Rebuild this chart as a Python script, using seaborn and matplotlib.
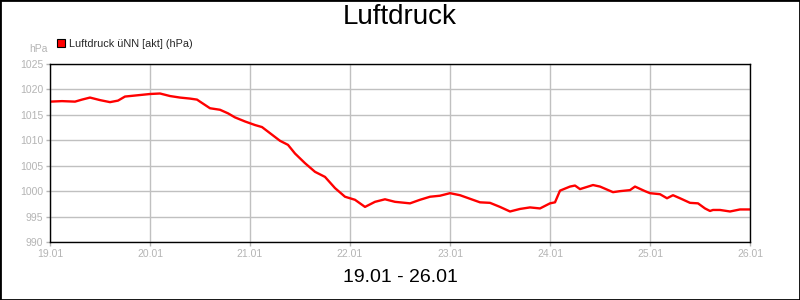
import matplotlib
matplotlib.use("Agg")
import matplotlib.pyplot as plt
import seaborn as sns
import pandas as pd
from matplotlib.patches import Patch, Rectangle

# ---- data ----
day_offset = [0.00, 0.12, 0.25, 0.32, 0.40, 0.50, 0.60, 0.68, 0.75, 0.90,
              1.00, 1.10, 1.20, 1.30, 1.40, 1.47, 1.50, 1.60, 1.70, 1.78,
              1.85, 1.95, 2.05, 2.12, 2.20, 2.30, 2.38, 2.45, 2.55, 2.65,
              2.75, 2.85, 2.95, 3.05, 3.15, 3.25, 3.35, 3.45, 3.60, 3.70,
              3.80, 3.90, 4.00, 4.10, 4.20, 4.30, 4.40, 4.50, 4.60, 4.70,
              4.80, 4.90, 5.00, 5.05, 5.10, 5.20, 5.25, 5.30, 5.43, 5.50,
              5.63, 5.70, 5.80, 5.85, 5.95, 6.00, 6.10, 6.17, 6.23, 6.30,
              6.40, 6.48, 6.55, 6.60, 6.63, 6.70, 6.80, 6.90, 7.00]
pressure = [1017.6, 1017.7, 1017.6, 1018.0, 1018.4, 1017.9, 1017.5, 1017.8, 1018.6, 1018.9,
            1019.1, 1019.2, 1018.7, 1018.4, 1018.2, 1018.0, 1017.6, 1016.3, 1016.0, 1015.3,
            1014.5, 1013.7, 1013.0, 1012.6, 1011.4, 1009.9, 1009.1, 1007.4, 1005.5, 1003.8,
            1002.8, 1000.6, 998.9, 998.3, 996.9, 997.9, 998.4, 997.9, 997.6, 998.3,
            998.9, 999.1, 999.6, 999.2, 998.5, 997.8, 997.7, 996.9, 996.0, 996.5,
            996.8, 996.6, 997.6, 997.8, 1000.1, 1000.9, 1001.1, 1000.4, 1001.2, 1000.9,
            999.8, 1000.0, 1000.2, 1000.9, 1000.0, 999.6, 999.4, 998.6, 999.2, 998.6,
            997.7, 997.6, 996.6, 996.1, 996.3, 996.3, 996.0, 996.4, 996.4]
tick_labels = ["19.01", "20.01", "21.01", "22.01", "23.01", "24.01", "25.01", "26.01"]
y_ticks = [990, 995, 1000, 1005, 1010, 1015, 1020, 1025]
series_label = "Luftdruck üNN [akt] (hPa)"

df = pd.DataFrame({"t": day_offset, "p": pressure})

sns.set_theme(style="white")
plt.rcParams["font.family"] = ["Liberation Sans", "DejaVu Sans"]

fig = plt.figure(figsize=(8, 3), dpi=100)
fig.patch.set_facecolor("white")
ax = fig.add_axes([50/800, 1-242/300, 700/800, 178/300])

grey_txt = "#b4b4b4"
sns.lineplot(data=df, x="t", y="p", ax=ax, color="#ff0000", linewidth=1.7)

ax.set_xlim(0, 7)
ax.set_ylim(990, 1025)
ax.set_xticks(range(len(tick_labels)))
ax.set_xticklabels(tick_labels)
ax.set_yticks(y_ticks)
ax.set_yticklabels([str(v) for v in y_ticks])
ax.grid(True, color="#c0c0c0", linewidth=1.0)
ax.set_axisbelow(True)
for s in ax.spines.values():
    s.set_color("black")
    s.set_linewidth(1.0)
ax.tick_params(axis="both", which="major", direction="out", length=3, width=1,
               color="#b4b4b4", labelcolor=grey_txt, labelsize=7.5, pad=2,
               bottom=True, left=True)
ax.set_xlabel("")
ax.set_ylabel("")

fig.text(0.5, 1-17/300, "Luftdruck", ha="center", va="center", fontsize=20, color="black")
fig.text(0.5, 1-277/300, "19.01 - 26.01", ha="center", va="center", fontsize=14, color="black")
fig.text(48/800, 1-49.5/300, "hPa", ha="right", va="center", fontsize=7.5, color=grey_txt)

handle = Patch(facecolor="#ff0000", edgecolor="black", linewidth=0.8, label=series_label)
fig.legend(handles=[handle], loc="center left", bbox_to_anchor=(57/800, 1-44/300),
           bbox_transform=fig.transFigure, frameon=False, fontsize=7.8,
           handlelength=0.75, handleheight=0.75, handletextpad=0.35,
           borderpad=0, borderaxespad=0)

fig.add_artist(Rectangle((0, 0), 1, 1, transform=fig.transFigure, fill=False,
                         edgecolor="black", linewidth=2))

fig.savefig("out.png", dpi=100)
